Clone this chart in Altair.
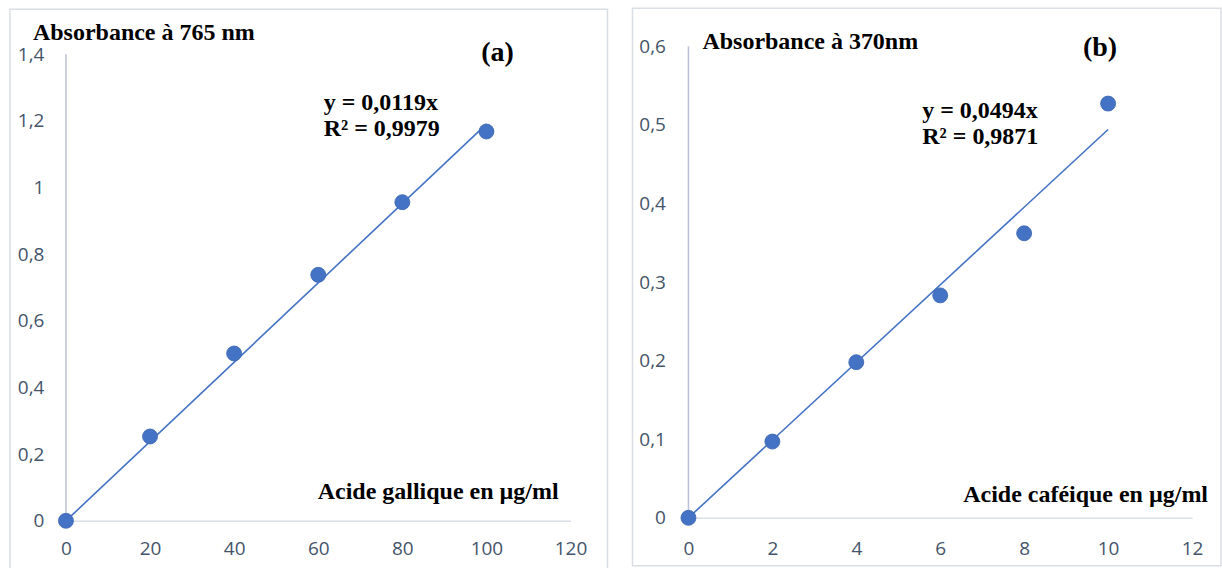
import altair as alt
import pandas as pd

# (a) Gallic acid calibration, absorbance read at 765 nm
GALLIC_CONC = [0, 20, 40, 60, 80, 100]
GALLIC_ABS = [0.0, 0.253, 0.502, 0.738, 0.956, 1.168]
GALLIC_SLOPE = 0.0119
GALLIC_R2 = 0.9979
GALLIC_X_TICKS = [0, 20, 40, 60, 80, 100, 120]
GALLIC_Y_TICKS = [0, 0.2, 0.4, 0.6, 0.8, 1, 1.2, 1.4]

# (b) Caffeic acid calibration, absorbance read at 370 nm
CAFEIC_CONC = [0, 2, 4, 6, 8, 10]
CAFEIC_ABS = [0.0, 0.097, 0.198, 0.283, 0.362, 0.527]
CAFEIC_SLOPE = 0.0494
CAFEIC_R2 = 0.9871
CAFEIC_X_TICKS = [0, 2, 4, 6, 8, 10, 12]
CAFEIC_Y_TICKS = [0, 0.1, 0.2, 0.3, 0.4, 0.5, 0.6]

BLUE = "#4472C4"
TICK_COLOR = "#44546A"
SERIF = "Liberation Serif"
LABEL_EXPR = "replace(format(datum.value, '~g'), '.', ',')"


def fr(v, digits):
    return f"{v:.{digits}f}".replace(".", ",")


def panel(conc, absb, slope, r2, x_ticks, y_ticks, y_domain_top,
          width, height, x_pad, y_pad, y_title, y_title_pos, tag, tag_pos,
          eq_pos, x_title, x_title_pos, frame):
    pts = pd.DataFrame({"c": conc, "a": absb})
    fit = pd.DataFrame({"c": [conc[0], conc[-1]],
                        "a": [slope * conc[0], slope * conc[-1]]})
    one = pd.DataFrame({"k": [0]})

    x = alt.X("c:Q",
              scale=alt.Scale(domain=[x_ticks[0], x_ticks[-1]], nice=False, zero=True),
              axis=alt.Axis(values=x_ticks, title=None, grid=False, ticks=False,
                            tickSize=0, labelPadding=x_pad, domainColor="#d9dee7",
                            domainWidth=1.5, labelFlush=False,
                            labelFont="Open Sans", labelFontSize=19,
                            labelColor=TICK_COLOR))
    y = alt.Y("a:Q",
              scale=alt.Scale(domain=[0, y_domain_top], nice=False, zero=True),
              axis=alt.Axis(values=y_ticks, title=None, grid=False, ticks=False,
                            tickSize=0, labelPadding=y_pad, domain=False,
                            labelExpr=LABEL_EXPR, labelFlush=False,
                            labelFont="Open Sans", labelFontSize=19,
                            labelColor=TICK_COLOR))

    box = alt.Chart(one).mark_rect(fill="white", fillOpacity=0, stroke="#d9dde4",
                                   strokeWidth=1.5).encode(
        x=alt.value(frame[0]), x2=alt.value(frame[1]),
        y=alt.value(frame[2]), y2=alt.value(frame[3]))

    y_line = alt.Chart(pd.DataFrame({"c": [0], "a": [0], "a2": [y_ticks[-1]]})).mark_rule(
        color="#b8c2d4", strokeWidth=1.5).encode(x=x, y=y, y2="a2:Q")

    trend = alt.Chart(fit).mark_line(color=BLUE, strokeWidth=1.6).encode(x=x, y=y)
    dots = alt.Chart(pts).mark_circle(size=225, color=BLUE, opacity=1,
                                      stroke="#3a64b0", strokeWidth=0.8).encode(x=x, y=y)

    def label(text, pos, size=24, align="left"):
        return alt.Chart(one).mark_text(
            align=align, baseline="middle", font=SERIF, fontWeight="bold",
            fontSize=size, color="black").encode(
            x=alt.value(pos[0]), y=alt.value(pos[1]), text=alt.value(text))

    texts = [
        label(y_title, y_title_pos),
        label(tag, tag_pos, size=28, align="center"),
        label(f"y = {fr(slope, 4)}x", eq_pos),
        label(f"R² = {fr(r2, 4)}", (eq_pos[0], eq_pos[1] + 26)),
        label(x_title, x_title_pos),
    ]

    return alt.layer(box, y_line, trend, dots, *texts).properties(
        width=width, height=height)


left = panel(GALLIC_CONC, GALLIC_ABS, GALLIC_SLOPE, GALLIC_R2,
             GALLIC_X_TICKS, GALLIC_Y_TICKS, 1.4 * 475 / 467,
             width=505, height=475, x_pad=19, y_pad=22,
             y_title="Absorbance à 765 nm", y_title_pos=(-33, -13),
             tag="(a)", tag_pos=(432, 7), eq_pos=(258, 57),
             x_title="Acide gallique en µg/ml", x_title_pos=(252, 446),
             frame=(-56, 542, -37, 535))

right = panel(CAFEIC_CONC, CAFEIC_ABS, CAFEIC_SLOPE, CAFEIC_R2,
              CAFEIC_X_TICKS, CAFEIC_Y_TICKS, 0.6,
              width=504, height=472, x_pad=22, y_pad=23,
              y_title="Absorbance à 370nm", y_title_pos=(14, -4),
              tag="(b)", tag_pos=(412, 2), eq_pos=(234, 65),
              x_title="Acide caféique en µg/ml", x_title_pos=(275, 449),
              frame=(-56, 533, -38, 520))

chart = alt.hconcat(left, right, spacing=118, bounds="flush").properties(
    padding={"left": 9, "top": 7, "right": 0, "bottom": 0},
    background="white"
).configure_view(stroke=None)

chart.save("out.html", embed_options={"renderer": "svg", "actions": False})
